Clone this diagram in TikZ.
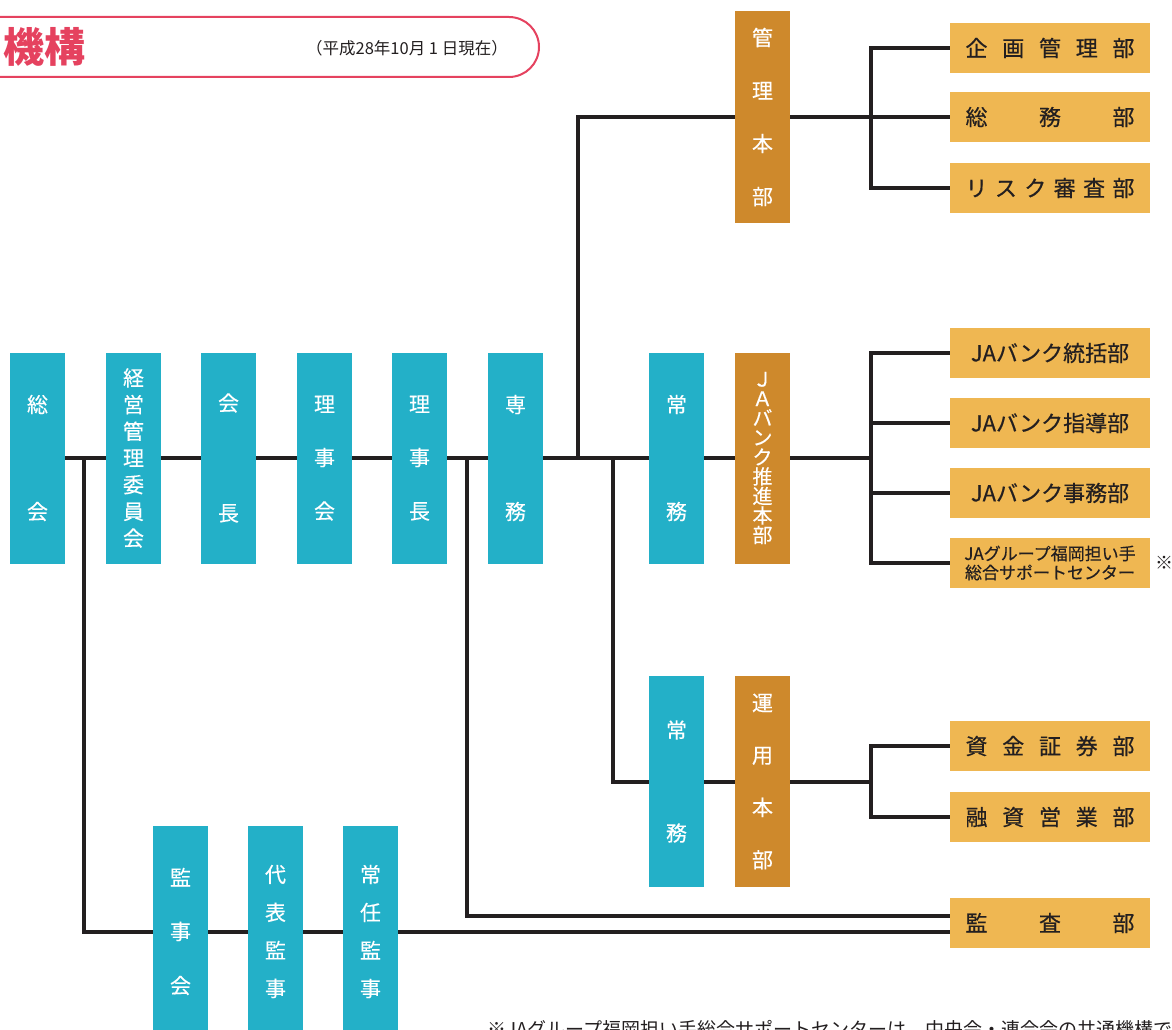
\documentclass[tikz,border=0pt]{standalone}
\usepackage{fontspec}
\setmainfont{Noto Sans CJK JP}
\usetikzlibrary{backgrounds}
\definecolor{jablue}{RGB}{35,176,200}
\definecolor{jabrown}{RGB}{206,137,44}
\definecolor{jagold}{RGB}{239,183,82}
\definecolor{linedark}{RGB}{35,31,32}
\definecolor{titlepink}{RGB}{229,66,95}
\newcommand{\spread}[1]{\makebox[169pt][s]{#1}}

\begin{document}
\begin{tikzpicture}[x=1pt, y=-1pt,
    tall/.style={minimum width=55pt, minimum height=211pt, inner sep=0pt, align=center, text=white},
    blu/.style={tall, fill=jablue},
    brn/.style={tall, fill=jabrown},
    vsp/.style={font=\fontsize{21pt}{#1pt}\selectfont\addfontfeatures{FakeBold=0.3}},
    dept/.style={fill=jagold, minimum width=200pt, minimum height=50pt, inner sep=0pt, text=linedark, font=\fontsize{22pt}{26pt}\selectfont\addfontfeatures{FakeBold=0.5}},
    link/.style={line width=4pt, draw=linedark}]
        \useasboundingbox (0,0) rectangle (1172,1030);

        % title bar
        \draw[titlepink, line width=2pt, rounded corners=30pt] (-40,17) rectangle (539,77);
        \node[anchor=west, inner sep=0pt, text=titlepink, font=\fontsize{41pt}{41pt}\selectfont\bfseries] (title) at (3,47) {機構};
        \node[anchor=east, inner sep=0pt, text=linedark, font=\fontsize{16.5pt}{17pt}\selectfont] (asof) at (508,48) {（平成28年10月 1 日現在）};

        % main chain
        \node[blu, vsp=107] (soukai) at (37.5,458) {総\\会};
        \node[blu, vsp=26.7] (keiei) at (133.5,458) {経\\営\\管\\理\\委\\員\\会};
        \node[blu, vsp=110] (kaicho) at (228.5,458) {会\\長};
        \node[blu, vsp=53.5] (rijikai) at (324.5,458) {理\\事\\会};
        \node[blu, vsp=53.5] (rijicho) at (419.5,458) {理\\事\\長};
        \node[blu, vsp=107] (senmu) at (515.5,458) {専\\務};

        % headquarters
        \node[brn, vsp=53] (kanrihq) at (762.5,117) {管\\理\\本\\部};
        \node[blu, vsp=107] (jomuA) at (676.5,458) {常\\務};
        \node[brn, font=\fontsize{20pt}{19.5pt}\selectfont\addfontfeatures{FakeBold=0.3}] (jbhq) at (762.5,458) {Ｊ\\Ａ\\バ\\ン\\ク\\推\\進\\本\\部};
        \node[blu, vsp=103] (jomuB) at (676.5,781.5) {常\\務};
        \node[brn, vsp=52.3] (unyohq) at (762.5,781.5) {運\\用\\本\\部};

        % auditors
        \node[blu, vsp=54] (kanjikai) at (180.5,931.5) {監\\事\\会};
        \node[blu, vsp=38] (daihyo) at (275.5,931.5) {代\\表\\監\\事};
        \node[blu, vsp=38] (jonin) at (370.5,931.5) {常\\任\\監\\事};

        % departments
        \node[dept] (kikaku) at (1050,48) {\spread{企\hfill 画\hfill 管\hfill 理\hfill 部}};
        \node[dept] (somu) at (1050,117) {\spread{総\hfill 務\hfill 部}};
        \node[dept] (risk) at (1050,188) {\spread{リ\hfill ス\hfill ク\hfill 審\hfill 査\hfill 部}};
        \node[dept] (jbtokatsu) at (1050,353) {JAバンク統括部};
        \node[dept] (jbshido) at (1050,423) {JAバンク指導部};
        \node[dept] (jbjimu) at (1050,493) {JAバンク事務部};
        \node[dept, align=center, font=\fontsize{17pt}{19pt}\selectfont\addfontfeatures{FakeBold=0.4}] (ninaite) at (1050,563) {JAグループ福岡担い手\\総合サポートセンター};
        \node[dept] (shikin) at (1050,746) {\spread{資\hfill 金\hfill 証\hfill 券\hfill 部}};
        \node[dept] (yushi) at (1050,817) {\spread{融\hfill 資\hfill 営\hfill 業\hfill 部}};
        \node[dept] (kansa) at (1050,923) {\spread{監\hfill 査\hfill 部}};

        % notes
        \node[anchor=west, inner sep=0pt, text=linedark, font=\fontsize{18pt}{18pt}\selectfont] (kome) at (1155,563) {※};
        \node[anchor=base west, inner sep=0pt, text=linedark, font=\fontsize{19pt}{19pt}\selectfont] (note) at (487,1036) {※JAグループ福岡担い手総合サポートセンターは、中央会・連合会の共通機構です};

        % branch points
        \coordinate (brA) at (871,117);
        \coordinate (brB) at (871,458);
        \coordinate (brC) at (871,781.5);
        \coordinate (tapK) at (84,458);
        \coordinate (tapR) at (467,458);
        \coordinate (tapS) at (578,458);
        \coordinate (tapJ) at (613,458);

        % connectors behind the boxes
        \begin{scope}[on background layer={link}]
          \draw (soukai) -- (brB);
          \draw (tapS) |- (brA);
          \draw (tapJ) |- (brC);
          \draw (tapK) |- (kansa.west |- kanjikai);
          \draw (tapR) |- ([yshift=7pt]kansa.west);
          \draw (kikaku.west) -| (brA) |- (risk.west);
          \draw (brA) -- (somu.west);
          \draw (jbtokatsu.west) -| (brB) |- (ninaite.west);
          \draw (jbshido.west) -| (brB);
          \draw (jbjimu.west) -| (brB);
          \draw (shikin.west) -| (brC) |- (yushi.west);
        \end{scope}
\end{tikzpicture}
\end{document}
